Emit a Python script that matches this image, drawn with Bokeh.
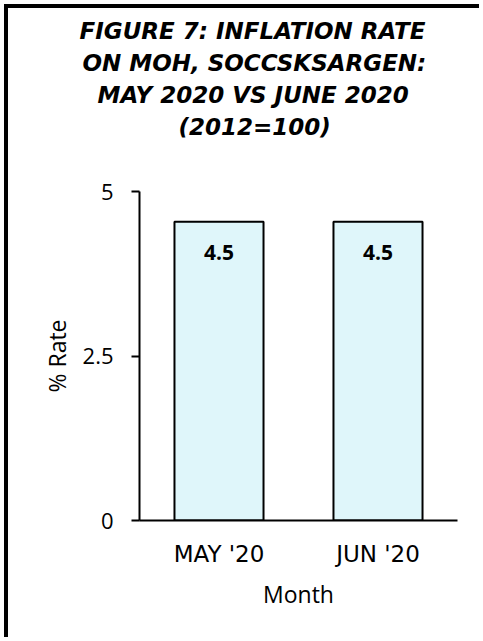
from bokeh.plotting import figure
from bokeh.models import FactorRange, Range1d, FixedTicker, Title, ColumnDataSource
from bokeh.core.properties import value
from bokeh.embed import file_html
from bokeh.resources import INLINE

# ---- data ----
months = ["MAY '20", "JUN '20"]
rates = [4.54, 4.54]
rate_labels = ["4.5", "4.5"]
y_ticks = [0, 2.5, 5]
y_tick_labels = ["0", "2.5", "5"]
title_lines = [
    "FIGURE 7: INFLATION RATE",
    "ON MOH, SOCCSKSARGEN:",
    "MAY 2020 VS JUNE 2020",
    "(2012=100)",
]

FONT = "Open Sans"
WIDE = "DejaVu Sans"
W, H = 475, 633

p = figure(
    x_range=FactorRange(*months, range_padding=0),
    y_range=Range1d(0, 5),
    width=W, height=H,
    output_backend="svg", toolbar_location=None,
    min_border_left=131, min_border_right=26,
    min_border_top=183, min_border_bottom=121,
)
p.styles = {"margin-left": "4px", "margin-top": "4px",
            "border-left": "4px solid black", "border-top": "4px solid black"}
p.outline_line_color = None
p.xgrid.visible = False
p.ygrid.visible = False
p.background_fill_color = "white"
p.border_fill_color = "white"

src = ColumnDataSource(dict(month=months, rate=rates, label=rate_labels))
p.vbar(x="month", top="rate", width=0.56, source=src,
       fill_color="#DFF6FA", line_color="black", line_width=2)
p.text(x="month", y="rate", text="label", source=src, y_offset=31,
       text_align="center", text_baseline="middle",
       text_font=value(FONT), text_font_style="bold",
       text_font_size="21px", text_color="black")

# y axis
ya = p.yaxis[0]
ya.ticker = FixedTicker(ticks=y_ticks)
ya.major_label_overrides = {t: l for t, l in zip(y_ticks, y_tick_labels)}
ya.axis_line_color = "black"
ya.axis_line_width = 2
ya.major_tick_line_color = "black"
ya.major_tick_line_width = 2
ya.major_tick_out = 8
ya.major_tick_in = 0
ya.minor_tick_line_color = None
ya.major_label_text_font = FONT
ya.major_label_text_font_size = "22px"
ya.major_label_text_color = "black"
ya.major_label_standoff = 18
ya.axis_label = "% Rate"
ya.axis_label_text_font = FONT
ya.axis_label_text_font_size = "23px"
ya.axis_label_text_font_style = "normal"
ya.axis_label_text_color = "black"
ya.axis_label_standoff = 7

# x axis
xa = p.xaxis[0]
xa.axis_line_color = "black"
xa.axis_line_width = 2
xa.major_tick_line_color = None
xa.major_tick_out = 0
xa.minor_tick_line_color = None
xa.major_label_text_font = WIDE
xa.major_label_text_font_size = "23px"
xa.major_label_text_color = "black"
xa.major_label_standoff = 20
xa.axis_label = "Month"
xa.axis_label_text_font = FONT
xa.axis_label_text_font_size = "23px"
xa.axis_label_text_font_style = "normal"
xa.axis_label_text_color = "black"
xa.axis_label_standoff = 8

title_style = dict(text_font=WIDE, text_font_style="bold italic",
                   text_font_size="23px", text_color="black")

# blank spacer row between the frame and the title block
p.add_layout(Title(text=" ", align="left", standoff=22, **title_style), "above")

# title lines, stacked above the frame (last line nearest the frame)
title_offsets = [-60, -57, -42, 39]
for line, off in reversed(list(zip(title_lines, title_offsets))):
    p.add_layout(Title(text=line, align="left", offset=off, standoff=4,
                       **title_style), "above")

open("out.html", "w").write(file_html(p, INLINE))
